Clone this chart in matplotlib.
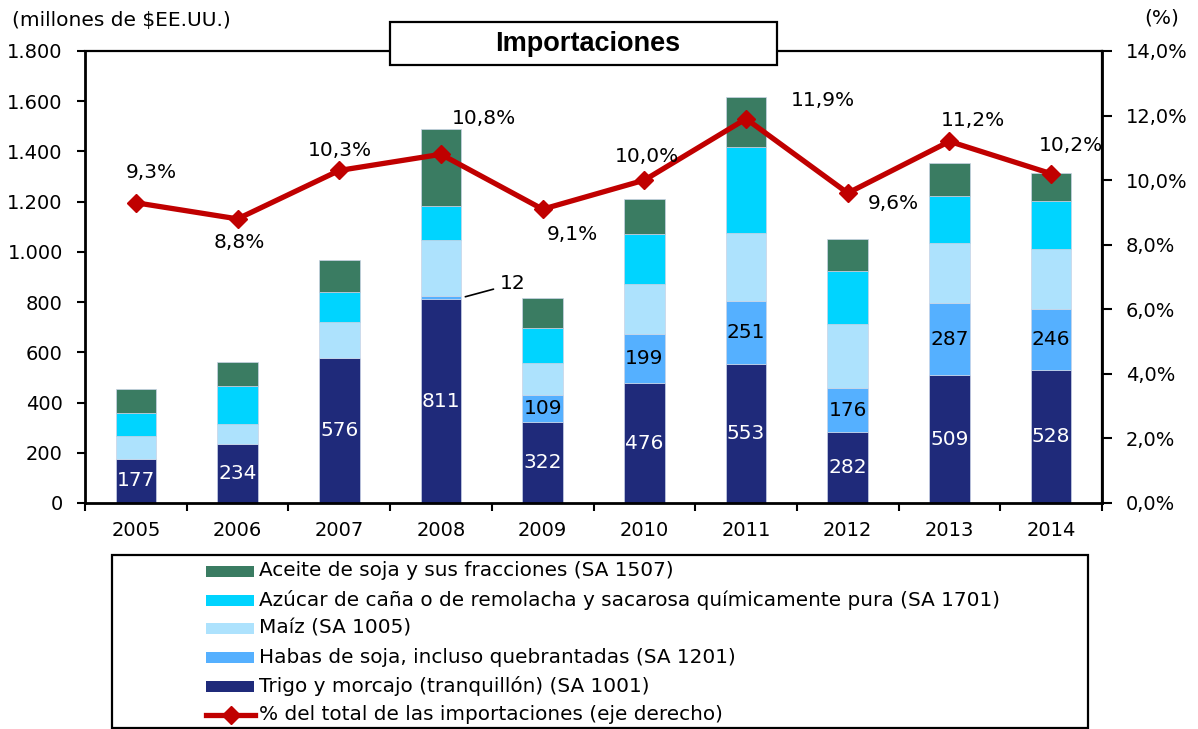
import matplotlib
matplotlib.use("Agg")
import matplotlib.pyplot as plt
from matplotlib.patches import Rectangle
from matplotlib.lines import Line2D
from matplotlib.ticker import FuncFormatter, FixedLocator
import numpy as np

# ---------------- data ----------------
years = ["2005", "2006", "2007", "2008", "2009", "2010", "2011", "2012", "2013", "2014"]
trigo = [177, 234, 576, 811, 322, 476, 553, 282, 509, 528]
habas = [0, 0, 0, 12, 109, 199, 251, 176, 287, 246]
maiz = [90, 82, 143, 226, 128, 198, 272, 255, 239, 238]
azucar = [93, 149, 122, 132, 138, 200, 340, 212, 188, 192]
aceite = [92, 96, 127, 307, 119, 136, 201, 128, 130, 109]
pct = [9.3, 8.8, 10.3, 10.8, 9.1, 10.0, 11.9, 9.6, 11.2, 10.2]

series_labels = [
    "Trigo y morcajo (tranquillón) (SA 1001)",
    "Habas de soja, incluso quebrantadas (SA 1201)",
    "Maíz (SA 1005)",
    "Azúcar de caña o de remolacha y sacarosa químicamente pura (SA 1701)",
    "Aceite de soja y sus fracciones (SA 1507)",
]
line_label = "% del total de las importaciones (eje derecho)"
series_colors = ["#1F2A7A", "#55B0FF", "#ADE2FD", "#00D4FF", "#3A7C62"]
line_color = "#C00000"

# label offsets (pixels) for the percentage labels
pct_offsets = [(15, 30), (2, -24), (1, 20), (43, 36), (30, -25),
               (3, 24), (77, 18), (46, -10), (23, 21), (20, 28)]

W, H = 1198, 729
fig = plt.figure(figsize=(W / 100, H / 100), dpi=100)
FS_TICK = 14
FS_LAB = 14.5
plt.rcParams["font.family"] = ["DejaVu Sans"]

L, R, T, B = 85, 1102, 51, 503
ax = fig.add_axes([L / W, 1 - B / H, (R - L) / W, (B - T) / H])
ax.set_zorder(1)

x = np.arange(len(years)) + 0.5
stack = [trigo, habas, maiz, azucar, aceite]
bottom = np.zeros(len(years))
for vals, col in zip(stack, series_colors):
    ax.bar(x, vals, width=0.4, bottom=bottom, color=col,
           edgecolor="#C9D3E6", linewidth=0.5, zorder=2)
    bottom = bottom + np.array(vals)

ax.set_xlim(0, len(years))
ax.set_ylim(0, 1800)
ax.yaxis.set_major_locator(FixedLocator(np.arange(0, 1801, 200)))
ax.yaxis.set_major_formatter(FuncFormatter(lambda v, p: f"{int(v):,}".replace(",", ".")))
ax.xaxis.set_major_locator(FixedLocator(np.arange(0, len(years) + 1)))
ax.xaxis.set_major_formatter(FuncFormatter(lambda v, p: ""))
ax.xaxis.set_minor_locator(FixedLocator(x))
ax.set_xticklabels(years, minor=True)
ax.tick_params(axis="x", which="major", direction="out", length=6, width=1.5)
ax.tick_params(axis="x", which="minor", length=0, pad=13, labelsize=FS_TICK)
ax.tick_params(axis="y", direction="out", length=6, width=1.5, pad=10, labelsize=FS_TICK)
for s in ax.spines.values():
    s.set_linewidth(1.6)
ax.spines["left"].set_linewidth(2)
ax.spines["bottom"].set_linewidth(2)

# bar labels
for i in range(len(years)):
    t = trigo[i]
    ax.text(x[i], t / 2, f"{t}", ha="center", va="center", color="white", fontsize=FS_LAB, zorder=3)
    h = habas[i]
    if h >= 50:
        ax.text(x[i], t + h / 2, f"{h}", ha="center", va="center", color="black", fontsize=FS_LAB, zorder=3)
    elif h > 0:
        ax.annotate(f"{h}", xy=(x[i] + 0.2, t + h / 2), xytext=(39, 14),
                    textcoords="offset pixels", ha="left", va="center", fontsize=FS_LAB,
                    arrowprops=dict(arrowstyle="-", color="black", lw=1.2,
                                    shrinkA=3, shrinkB=3), zorder=3)

# line on right axis
ax2 = ax.twinx()
ax2.set_ylim(0, 14)
ax2.yaxis.set_major_locator(FixedLocator(np.arange(0, 14.1, 2)))
ax2.yaxis.set_major_formatter(FuncFormatter(lambda v, p: f"{v:.1f}".replace(".", ",") + "%"))
ax2.tick_params(axis="y", direction="out", length=7, width=1.5, pad=10, labelsize=FS_TICK)
ax2.spines["right"].set_linewidth(2)
for s in ["left", "top", "bottom"]:
    ax2.spines[s].set_visible(False)
ax2.plot(x, pct, color=line_color, lw=3.8, marker="D", markersize=9,
         markerfacecolor=line_color, markeredgecolor=line_color, zorder=5)
for xi, p, off in zip(x, pct, pct_offsets):
    ax2.annotate(f"{p:.1f}".replace(".", ",") + "%", xy=(xi, p), xytext=off,
                 textcoords="offset pixels", ha="center", va="center", fontsize=FS_LAB, zorder=6)

# overlay axes in pixel coordinates for frame decorations
ov = fig.add_axes([0, 0, 1, 1], zorder=10)
ov.set_xlim(0, W)
ov.set_ylim(H, 0)
ov.axis("off")
ov.patch.set_alpha(0)

# title box
ov.add_patch(Rectangle((390, 22), 387, 43, facecolor="white", edgecolor="black", lw=1.6))
ov.text(588, 44, "Importaciones", ha="center", va="center", fontsize=19.5,
        fontweight="bold", family=["Liberation Sans", "DejaVu Sans"])

ov.text(12, 20, "(millones de $EE.UU.)", ha="left", va="center", fontsize=FS_LAB)
ov.text(1162, 18, "(%)", ha="center", va="center", fontsize=FS_LAB)

# legend
ov.add_patch(Rectangle((112, 555), 976, 173, facecolor="white", edgecolor="black", lw=1.6))
LFS = 14.4
order = [4, 3, 2, 1, 0]
ys = [571, 600, 628.5, 657.5, 686, 714.5]
for k, idx in enumerate(order):
    y = ys[k]
    ov.add_patch(Rectangle((206, y - 5.5), 48, 11, facecolor=series_colors[idx], edgecolor="none"))
    ov.text(259, y, series_labels[idx], ha="left", va="center", fontsize=LFS)
y = ys[5]
ov.add_line(Line2D([206, 255], [y, y], color=line_color, lw=3.8))
ov.plot([231], [y], marker="D", markersize=9, color=line_color)
ov.text(259, y, line_label, ha="left", va="center", fontsize=LFS)

fig.savefig("out.png", dpi=100)
